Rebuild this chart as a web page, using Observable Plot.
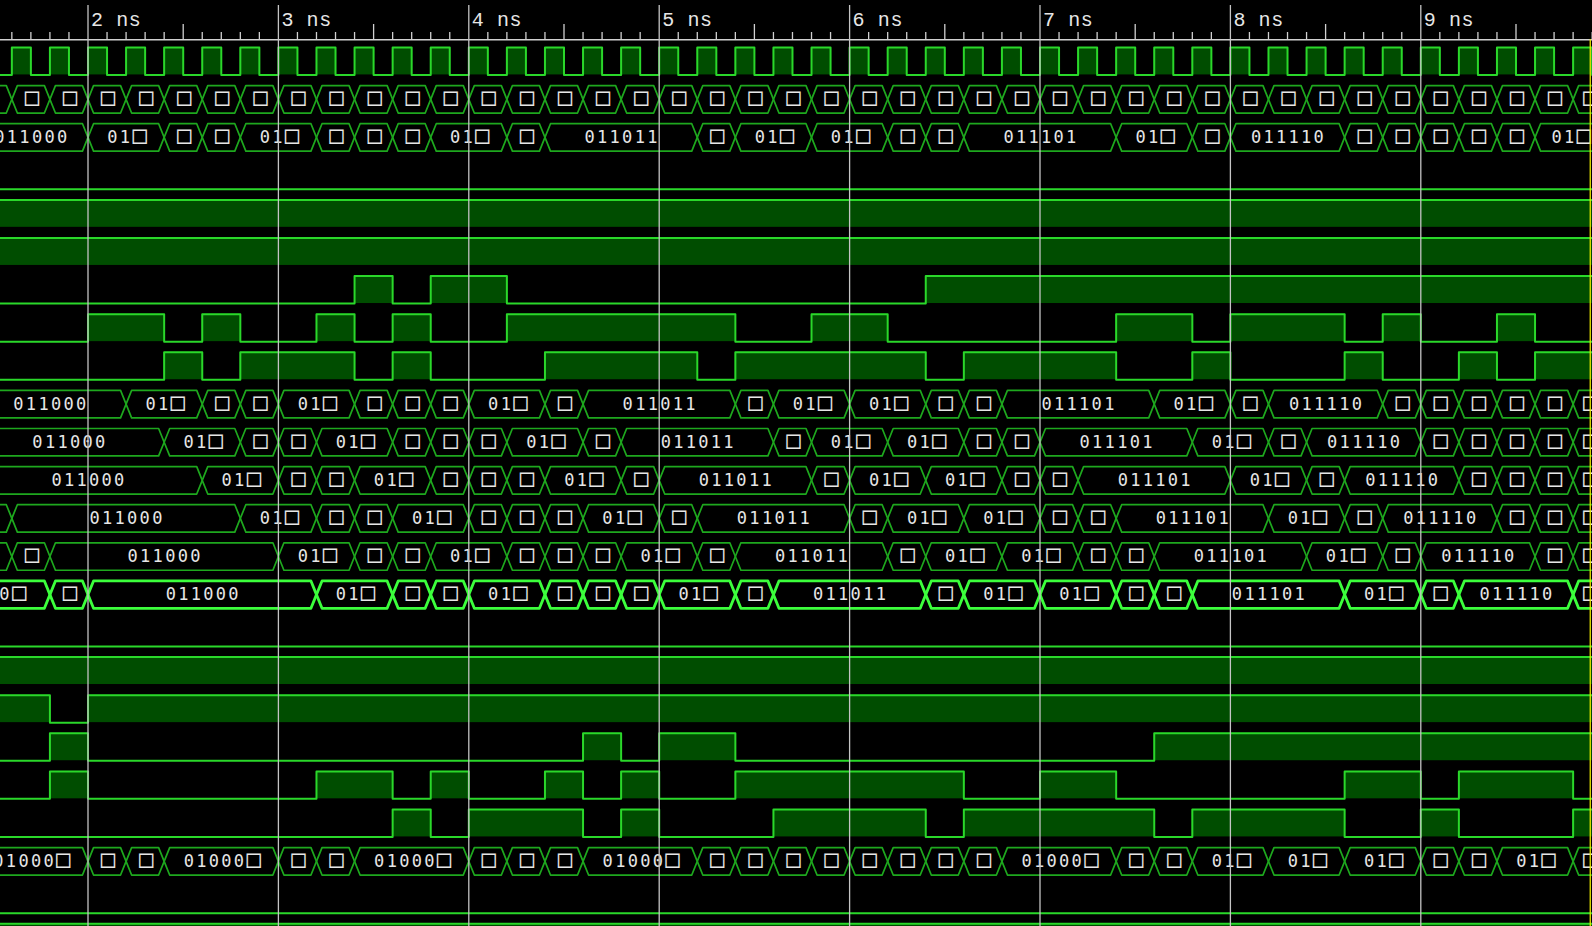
<!DOCTYPE html>
<html>
<head>
<meta charset="utf-8">
<script src="https://cdn.jsdelivr.net/npm/d3@7"></script>
<script src="https://cdn.jsdelivr.net/npm/@observablehq/plot@0.6"></script>
<style>
html, body { margin: 0; padding: 0; background: #000; overflow: hidden; }
#chart svg { display: block; overflow: hidden; }
g[font-family="DejaVu Sans Mono"] text { letter-spacing: 2.3px; }
g[font-family="DejaVu Sans Mono"] tspan.box { letter-spacing: 0px; }
g[font-family="Liberation Mono"] text { letter-spacing: 0.6px; }
</style>
</head>
<body>
<div id="chart"></div>
<script>
// ---------------- data (times in ns) ----------------
const majorTicks = [2, 3, 4, 5, 6, 7, 8, 9];
const majorTickLabels = ["2 ns", "3 ns", "4 ns", "5 ns", "6 ns", "7 ns", "8 ns", "9 ns"];
const halfTicks = [2.5, 3.5, 4.5, 5.5, 6.5, 7.5, 8.5, 9.5];
const minorTicks = [1.6, 1.7, 1.8, 1.9, 2.1, 2.2, 2.3, 2.4, 2.6, 2.7, 2.8, 2.9,
  3.1, 3.2, 3.3, 3.4, 3.6, 3.7, 3.8, 3.9, 4.1, 4.2, 4.3, 4.4, 4.6, 4.7, 4.8, 4.9,
  5.1, 5.2, 5.3, 5.4, 5.6, 5.7, 5.8, 5.9, 6.1, 6.2, 6.3, 6.4, 6.6, 6.7, 6.8, 6.9,
  7.1, 7.2, 7.3, 7.4, 7.6, 7.7, 7.8, 7.9, 8.1, 8.2, 8.3, 8.4, 8.6, 8.7, 8.8, 8.9,
  9.1, 9.2, 9.3, 9.4, 9.6, 9.7, 9.8, 9.9];
const markerTime = 9.89;

const clockRise = [1.6, 1.8, 2.0, 2.2, 2.4, 2.6, 2.8, 3.0, 3.2, 3.4, 3.6, 3.8, 4.0, 4.2,
  4.4, 4.6, 4.8, 5.0, 5.2, 5.4, 5.6, 5.8, 6.0, 6.2, 6.4, 6.6, 6.8, 7.0, 7.2, 7.4, 7.6,
  7.8, 8.0, 8.2, 8.4, 8.6, 8.8, 9.0, 9.2, 9.4, 9.6, 9.8];
const clockFall = [1.7, 1.9, 2.1, 2.3, 2.5, 2.7, 2.9, 3.1, 3.3, 3.5, 3.7, 3.9, 4.1, 4.3,
  4.5, 4.7, 4.9, 5.1, 5.3, 5.5, 5.7, 5.9, 6.1, 6.3, 6.5, 6.7, 6.9, 7.1, 7.3, 7.5, 7.7,
  7.9, 8.1, 8.3, 8.5, 8.7, 8.9, 9.1, 9.3, 9.5, 9.7, 9.9];

// digital signals: [time, level]
const sig3 = [[1.4, 0]];
const sig4 = [[1.4, 1]];
const sig5 = [[1.4, 1]];
const sig6 = [[1.4, 0], [3.4, 1], [3.6, 0], [3.8, 1], [4.2, 0], [6.4, 1]];
const sig7 = [[1.4, 0], [2.0, 1], [2.4, 0], [2.6, 1], [2.8, 0], [3.2, 1], [3.4, 0], [3.6, 1],
  [3.8, 0], [4.2, 1], [5.4, 0], [5.8, 1], [6.2, 0], [7.4, 1], [7.8, 0], [8.0, 1], [8.6, 0],
  [8.8, 1], [9.0, 0], [9.4, 1], [9.6, 0]];
const sig8 = [[1.4, 0], [2.4, 1], [2.6, 0], [2.8, 1], [3.4, 0], [3.6, 1], [3.8, 0], [4.4, 1],
  [5.2, 0], [5.4, 1], [6.4, 0], [6.6, 1], [7.4, 0], [7.8, 1], [8.0, 0], [8.6, 1], [8.8, 0],
  [9.2, 1], [9.4, 0], [9.6, 1]];
const sig15 = [[1.4, 0]];
const sig16 = [[1.4, 1]];
const sig17 = [[1.4, 1], [1.8, 0], [2.0, 1]];
const sig18 = [[1.4, 0], [1.8, 1], [2.0, 0], [4.6, 1], [4.8, 0], [5.0, 1], [5.4, 0], [7.6, 1]];
const sig19 = [[1.4, 0], [1.8, 1], [2.0, 0], [3.2, 1], [3.6, 0], [3.8, 1], [4.0, 0], [4.4, 1],
  [4.6, 0], [4.8, 1], [5.0, 0], [5.4, 1], [6.6, 0], [7.0, 1], [7.4, 0], [8.6, 1], [9.0, 0],
  [9.2, 1], [9.8, 0]];
const sig20 = [[1.4, 0], [3.6, 1], [3.8, 0], [4.0, 1], [4.6, 0], [4.8, 1], [5.0, 0], [5.6, 1],
  [6.4, 0], [6.6, 1], [7.6, 0], [7.8, 1], [8.6, 0], [9.0, 1], [9.2, 0], [9.8, 1]];
const sig22 = [[1.4, 0]];
const sig23 = [[1.4, 1]];

// buses: [start time, displayed value]
const bus1 = [[1.4, "□"], [1.6, "□"], [1.8, "□"], [2.0, "□"], [2.2, "□"], [2.4, "□"], [2.6, "□"],
  [2.8, "□"], [3.0, "□"], [3.2, "□"], [3.4, "□"], [3.6, "□"], [3.8, "□"], [4.0, "□"], [4.2, "□"],
  [4.4, "□"], [4.6, "□"], [4.8, "□"], [5.0, "□"], [5.2, "□"], [5.4, "□"], [5.6, "□"], [5.8, "□"],
  [6.0, "□"], [6.2, "□"], [6.4, "□"], [6.6, "□"], [6.8, "□"], [7.0, "□"], [7.2, "□"], [7.4, "□"],
  [7.6, "□"], [7.8, "□"], [8.0, "□"], [8.2, "□"], [8.4, "□"], [8.6, "□"], [8.8, "□"], [9.0, "□"],
  [9.2, "□"], [9.4, "□"], [9.6, "□"], [9.8, "□"]];
const bus2 = [[0.8, "011000"], [2.0, "01□"], [2.4, "□"], [2.6, "□"], [2.8, "01□"], [3.2, "□"],
  [3.4, "□"], [3.6, "□"], [3.8, "01□"], [4.2, "□"], [4.4, "011011"], [5.2, "□"], [5.4, "01□"],
  [5.8, "01□"], [6.2, "□"], [6.4, "□"], [6.6, "011101"], [7.4, "01□"], [7.8, "□"], [8.0, "011110"],
  [8.6, "□"], [8.8, "□"], [9.0, "□"], [9.2, "□"], [9.4, "□"], [9.6, "01□"]];
const bus9 = [[1.0, "011000"], [2.2, "01□"], [2.6, "□"], [2.8, "□"], [3.0, "01□"], [3.4, "□"],
  [3.6, "□"], [3.8, "□"], [4.0, "01□"], [4.4, "□"], [4.6, "011011"], [5.4, "□"], [5.6, "01□"],
  [6.0, "01□"], [6.4, "□"], [6.6, "□"], [6.8, "011101"], [7.6, "01□"], [8.0, "□"], [8.2, "011110"],
  [8.8, "□"], [9.0, "□"], [9.2, "□"], [9.4, "□"], [9.6, "□"], [9.8, "01□"]];
const bus10 = [[1.2, "011000"], [2.4, "01□"], [2.8, "□"], [3.0, "□"], [3.2, "01□"], [3.6, "□"],
  [3.8, "□"], [4.0, "□"], [4.2, "01□"], [4.6, "□"], [4.8, "011011"], [5.6, "□"], [5.8, "01□"],
  [6.2, "01□"], [6.6, "□"], [6.8, "□"], [7.0, "011101"], [7.8, "01□"], [8.2, "□"], [8.4, "011110"],
  [9.0, "□"], [9.2, "□"], [9.4, "□"], [9.6, "□"], [9.8, "□"]];
const bus11 = [[1.2, "□"], [1.4, "011000"], [2.6, "01□"], [3.0, "□"], [3.2, "□"], [3.4, "01□"],
  [3.8, "□"], [4.0, "□"], [4.2, "□"], [4.4, "01□"], [4.8, "□"], [5.0, "011011"], [5.8, "□"],
  [6.0, "01□"], [6.4, "01□"], [6.8, "□"], [7.0, "□"], [7.2, "011101"], [8.0, "01□"], [8.4, "□"],
  [8.6, "011110"], [9.2, "□"], [9.4, "□"], [9.6, "□"], [9.8, "□"]];
const bus12 = [[1.4, "□"], [1.6, "011000"], [2.8, "01□"], [3.2, "□"], [3.4, "□"], [3.6, "01□"],
  [4.0, "□"], [4.2, "□"], [4.4, "□"], [4.6, "01□"], [5.0, "□"], [5.2, "011011"], [6.0, "□"],
  [6.2, "01□"], [6.6, "01□"], [7.0, "□"], [7.2, "□"], [7.4, "011101"], [8.2, "01□"], [8.6, "□"],
  [8.8, "011110"], [9.4, "□"], [9.6, "□"], [9.8, "□"]];
const bus13 = [[1.2, "□"], [1.6, "□"], [1.8, "011000"], [3.0, "01□"], [3.4, "□"], [3.6, "□"],
  [3.8, "01□"], [4.2, "□"], [4.4, "□"], [4.6, "□"], [4.8, "01□"], [5.2, "□"], [5.4, "011011"],
  [6.2, "□"], [6.4, "01□"], [6.8, "01□"], [7.2, "□"], [7.4, "□"], [7.6, "011101"], [8.4, "01□"],
  [8.8, "□"], [9.0, "011110"], [9.6, "□"], [9.8, "□"]];
const bus14 = [[1.4, "0□"], [1.8, "□"], [2.0, "011000"], [3.2, "01□"], [3.6, "□"], [3.8, "□"],
  [4.0, "01□"], [4.4, "□"], [4.6, "□"], [4.8, "□"], [5.0, "01□"], [5.4, "□"], [5.6, "011011"],
  [6.4, "□"], [6.6, "01□"], [7.0, "01□"], [7.4, "□"], [7.6, "□"], [7.8, "011101"], [8.6, "01□"],
  [9.0, "□"], [9.2, "011110"], [9.8, "□"]];
const bus21 = [[1.4, "01000□"], [2.0, "□"], [2.2, "□"], [2.4, "01000□"], [3.0, "□"], [3.2, "□"],
  [3.4, "01000□"], [4.0, "□"], [4.2, "□"], [4.4, "□"], [4.6, "01000□"], [5.2, "□"], [5.4, "□"],
  [5.6, "□"], [5.8, "□"], [6.0, "□"], [6.2, "□"], [6.4, "□"], [6.6, "□"], [6.8, "01000□"],
  [7.4, "□"], [7.6, "□"], [7.8, "01□"], [8.2, "01□"], [8.6, "01□"], [9.0, "□"], [9.2, "□"],
  [9.4, "01□"], [9.8, "□"]];

// ---------------- layout ----------------
const WIDTH = 1592, HEIGHT = 926;
const X_DOMAIN = [1.54044, 9.90179];      // visible time window
const Y_DOMAIN = [-1.2336, 23.0709];      // in row units (row pitch)
const ROW_H = 0.72;                        // signal height in row units
const VIEW_START = 1.4, VIEW_END = 9.97, SEG_END = 10.3;
const SLOPE = 0.029;                       // bus chamfer (ns)
const CHAR_PX = 12.8, LABEL_PAD_PX = 14;   // value text fitting
const AXIS_Y = -0.202, MINOR_TOP = -0.394, HALF_TOP = -0.604, GRID_TOP = -1.10, LABEL_Y = -0.56;

const lineGreen = "#2ad82a", fillGreen = "#004d00", busGreen = "#1ea81e", busBright = "#3cff3c";
const textColor = "#e6e6e6", gridColor = "#c4c4c4", axisColor = "#d0d0d0";

const pxPerNs = WIDTH / (X_DOMAIN[1] - X_DOMAIN[0]);

// clock as edge list
const clockEdges = [[1.4, 0]];
clockRise.forEach((r, i) => { clockEdges.push([r, 1]); clockEdges.push([clockFall[i], 0]); });

const digitalRows = [
  {row: 0, edges: clockEdges}, {row: 3, edges: sig3}, {row: 4, edges: sig4}, {row: 5, edges: sig5},
  {row: 6, edges: sig6}, {row: 7, edges: sig7}, {row: 8, edges: sig8},
  {row: 15, edges: sig15}, {row: 16, edges: sig16}, {row: 17, edges: sig17}, {row: 18, edges: sig18},
  {row: 19, edges: sig19}, {row: 20, edges: sig20}, {row: 22, edges: sig22}, {row: 23, edges: sig23}
];
const busRows = [
  {row: 1, segs: bus1}, {row: 2, segs: bus2}, {row: 9, segs: bus9}, {row: 10, segs: bus10},
  {row: 11, segs: bus11}, {row: 12, segs: bus12}, {row: 13, segs: bus13},
  {row: 14, segs: bus14, bright: true}, {row: 21, segs: bus21}
];

const highRects = [], levelPts = [];
for (const {row, edges} of digitalRows) {
  edges.forEach(([t, v], i) => {
    const tNext = i + 1 < edges.length ? edges[i + 1][0] : SEG_END;
    if (v) highRects.push({x1: t, x2: tNext, y1: row, y2: row + ROW_H});
    levelPts.push({row, t, y: v ? row : row + ROW_H});
  });
  const last = edges[edges.length - 1];
  levelPts.push({row, t: SEG_END, y: last[1] ? row : row + ROW_H});
}

// fit a value into the visible width of its segment, as the viewer does
function fitLabel(label, widthPx) {
  const maxChars = Math.floor((widthPx - LABEL_PAD_PX) / CHAR_PX);
  if (label.length <= maxChars) return label;
  if (maxChars <= 0) return "";
  return label.slice(0, maxChars - 1) + "□";
}

const hexPts = [], busLabels = [];
let segId = 0;
for (const {row, segs, bright} of busRows) {
  segs.forEach(([a, label], i) => {
    const b = i + 1 < segs.length ? segs[i + 1][0] : SEG_END;
    const top = row, bot = row + ROW_H, mid = row + ROW_H / 2;
    const pts = [[a, mid], [a + SLOPE, top], [b - SLOPE, top], [b, mid], [b - SLOPE, bot], [a + SLOPE, bot], [a, mid]];
    for (const [t, y] of pts) hexPts.push({id: segId, t, y, bright: !!bright});
    segId++;
    const va = Math.max(a, VIEW_START), vb = Math.min(b, VIEW_END);
    const c = (va + vb) / 2;
    const shown = fitLabel(label, (vb - va) * pxPerNs);
    if (vb > va && shown && c > X_DOMAIN[0] && c < X_DOMAIN[1]) busLabels.push({t: c, y: mid, label: shown});
  });
}

const axisLabels = majorTicks.map((t, i) => ({t, label: majorTickLabels[i]}));

const chart = Plot.plot({
  width: WIDTH,
  height: HEIGHT,
  margin: 0,
  x: {domain: X_DOMAIN, range: [0, WIDTH]},
  y: {domain: Y_DOMAIN, range: [0, HEIGHT]},
  style: {background: "#000", overflow: "hidden"},
  marks: [
    Plot.rect(highRects, {x1: "x1", x2: "x2", y1: "y1", y2: "y2", fill: fillGreen}),
    Plot.line(hexPts.filter(d => !d.bright), {x: "t", y: "y", z: "id", stroke: busGreen, strokeWidth: 1.7}),
    Plot.line(hexPts.filter(d => d.bright), {x: "t", y: "y", z: "id", stroke: busBright, strokeWidth: 2.8}),
    Plot.line(levelPts, {x: "t", y: "y", z: "row", curve: "step-after", stroke: lineGreen, strokeWidth: 2}),
    Plot.text(busLabels, {x: "t", y: "y", text: "label", fill: textColor, fontFamily: "DejaVu Sans Mono",
      fontSize: 17, dx: 1, lineAnchor: "middle"}),
    // time axis
    Plot.ruleY([AXIS_Y], {stroke: axisColor, strokeWidth: 1.5}),
    Plot.ruleX(minorTicks, {y1: AXIS_Y, y2: MINOR_TOP, stroke: axisColor, strokeWidth: 1.3}),
    Plot.ruleX(halfTicks, {y1: AXIS_Y, y2: HALF_TOP, stroke: axisColor, strokeWidth: 1.3}),
    Plot.text(axisLabels, {x: "t", y: LABEL_Y, text: "label", fill: textColor, fontFamily: "Liberation Mono",
      fontSize: 20, textAnchor: "start", dx: 3, lineAnchor: "bottom"}),
    Plot.ruleX(majorTicks, {y1: GRID_TOP, y2: Y_DOMAIN[1], stroke: gridColor, strokeWidth: 1.3}),
    Plot.ruleX([markerTime], {y1: AXIS_Y, y2: Y_DOMAIN[1], stroke: "#e8e800", strokeWidth: 1.3})
  ]
});

// enlarge the box glyph so it matches the digit height, keeping the text as text
const SVG_NS = "http://www.w3.org/2000/svg";
chart.querySelectorAll('g[font-family="DejaVu Sans Mono"] text').forEach(el => {
  const s = el.textContent;
  if (!s.includes("□")) return;
  el.textContent = "";
  for (const part of s.split(/(□)/)) {
    if (!part) continue;
    const ts = document.createElementNS(SVG_NS, "tspan");
    ts.textContent = part;
    if (part === "□") { ts.setAttribute("font-size", "24"); ts.setAttribute("class", "box"); }
    el.append(ts);
  }
});
document.getElementById("chart").append(chart);
</script>
</body>
</html>
